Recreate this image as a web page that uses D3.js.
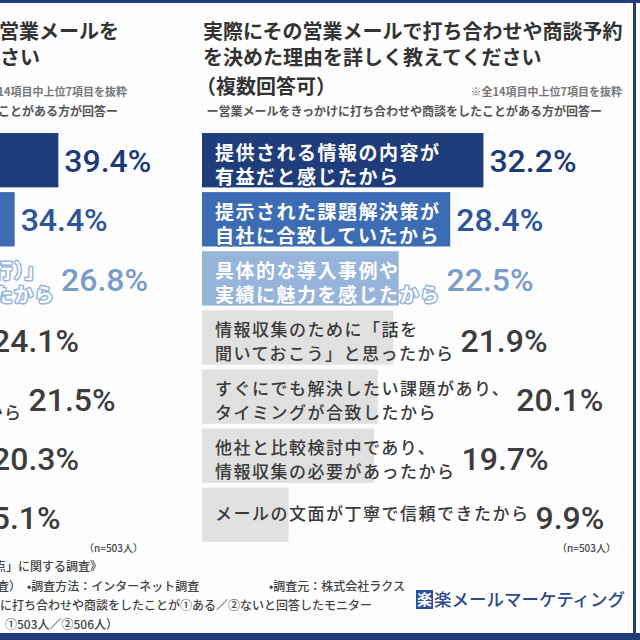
<!DOCTYPE html>
<html>
<head>
<meta charset="utf-8">
<script src="https://cdn.jsdelivr.net/npm/d3@7"></script>
<style>
  body { margin: 0; background: #fdfdfe; }
  svg { display: block; }
</style>
</head>
<body>
<script>
// --- data ---
var rightTitle = ["実際にその営業メールで打ち合わせや商談予約", "を決めた理由を詳しく教えてください", "（複数回答可）"];
var leftTitle = ["営業メールを", "教えてください"];
var noteText = "※全14項目中上位7項目を抜粋";
var subText = "ー営業メールをきっかけに打ち合わせや商談をしたことがある方が回答ー";
var sampleText = "（n=503人）";

var rightLabels = [
  ["提供される情報の内容が", "有益だと感じたから"],
  ["提示された課題解決策が", "自社に合致していたから"],
  ["具体的な導入事例や", "実績に魅力を感じたから"],
  ["情報収集のために「話を", "聞いておこう」と思ったから"],
  ["すぐにでも解決したい課題があり、", "タイミングが合致したから"],
  ["他社と比較検討中であり、", "情報収集の必要があったから"],
  ["メールの文面が丁寧で信頼できたから"]
];
var rightValues = [32.2, 28.4, 22.5, 21.9, 20.1, 19.7, 9.9];

// left panel is cut off by the picture edge; only the tails show
var leftLabels = [
  ["自社の課題に沿った", "提案内容だった"],
  ["サービスの特徴が", "分かりやすかった"],
  ["「無料お試し（初期設定の代行）」", "などの特典内容に魅力を感じたから"],
  ["課題に対する具体的な解決策が", "提示されていたから"],
  ["自社の業界に合わせた内容が", "自社向けに個別に書かれていたから"],
  ["担当者の専門性や経験の深さが", "伝わってきたから"],
  ["件名を見て興味を持ったから"]
];
var leftValues = [39.4, 34.4, 26.8, 24.1, 21.5, 20.3, 15.1];

var footerLines = [
  ["点」に関する調査》"],
  ["査）　•調査方法：インターネット調査", "•調査元：株式会社ラクス"],
  ["に打ち合わせや商談をしたことが①ある／②ないと回答したモニター"],
  ["①503人／②506人）"]
];
var logoMark = "楽";
var logoText = "楽メールマーケティング";

// --- styles ---
var navy = "#223c7a";
var barColors = ["#1f3d7b", "#3c6cb3", "#97b4da", "#e1e1e1", "#e1e1e1", "#e1e1e1", "#e1e1e1"];
var valueColors = ["#1d3a78", "#2d5597", "#7b9bc9", "#3d3d3d", "#3d3d3d", "#3d3d3d", "#3d3d3d"];
var jp = "'Noto Sans CJK JP', sans-serif";
var num = "Roboto, 'Noto Sans', sans-serif";

var W = 640, H = 640;
var svg = d3.select("body").append("svg")
  .attr("width", W)
  .attr("height", H);

svg.append("rect").attr("width", W).attr("height", H).attr("fill", "#fdfdfe");

var x = d3.scaleLinear().domain([0, 100]).range([0, 874]);
var y = d3.scaleBand().domain(d3.range(7)).range([133, 542]).paddingInner(0.08);

function drawPanel(x0, labels, values) {
  var g = svg.append("g").attr("transform", "translate(" + x0 + ",0)");

  var rows = g.selectAll("g.row")
    .data(values)
    .enter().append("g")
    .attr("class", "row");

  rows.append("rect")
    .attr("x", 0)
    .attr("y", function (d, i) { return y(i); })
    .attr("width", function (d) { return x(d); })
    .attr("height", y.bandwidth())
    .attr("fill", function (d, i) { return barColors[i]; });

  var lab = rows.append("text")
    .attr("font-family", jp)
    .attr("font-size", function (d, i) { return i < 3 ? 19 : 17; })
    .attr("font-weight", function (d, i) { return i < 3 ? 700 : 500; })
    .attr("letter-spacing", 1.5)
    .attr("fill", function (d, i) { return i < 3 ? "#fff" : "#3a3a3a"; })
    .attr("stroke", function (d, i) { return i < 3 ? barColors[i] : "none"; })
    .attr("stroke-width", 3)
    .attr("stroke-linejoin", "round")
    .attr("paint-order", "stroke");

  lab.selectAll("tspan")
    .data(function (d, i) {
      var ls = labels[i];
      var c = y(i) + y.bandwidth() / 2;
      return ls.map(function (t, k) {
        var off = ls.length === 1 ? -2 : (k === 0 ? -9 : 15);
        return { t: t, y: c + off };
      });
    })
    .enter().append("tspan")
    .attr("x", 13)
    .attr("y", function (d) { return d.y; })
    .attr("dominant-baseline", "central")
    .text(function (d) { return d.t; });

  // value sits after whichever is longer: the bar or its label
  rows.append("text")
    .attr("x", function (d, i) {
      var bb = lab.nodes()[i].getBBox();
      return Math.max(x(d), bb.x + bb.width) + 6;
    })
    .attr("y", function (d, i) { return y(i) + y.bandwidth() / 2 + (i < 3 ? 1 : 3); })
    .attr("dy", "0.35em")
    .attr("font-family", num)
    .attr("font-size", 32)
    .attr("font-weight", 500)
    .attr("fill", function (d, i) { return valueColors[i]; })
    .text(function (d) { return d.toFixed(1) + "%"; });
}

drawPanel(-286, leftLabels, leftValues);
drawPanel(202, rightLabels, rightValues);

// titles
var tt = svg.append("g")
  .attr("font-family", jp)
  .attr("font-weight", 700)
  .attr("font-size", 20)
  .attr("fill", "#333");
tt.append("text").attr("x", 203).attr("y", 39).text(rightTitle[0]);
tt.append("text").attr("x", 203).attr("y", 65).text(rightTitle[1]);
tt.append("text").attr("x", 196).attr("y", 94).text(rightTitle[2]);
tt.append("text").attr("x", 119).attr("y", 39).attr("text-anchor", "end").text(leftTitle[0]);
tt.append("text").attr("x", 40).attr("y", 65).attr("text-anchor", "end").text(leftTitle[1]);

var st = svg.append("g")
  .attr("font-family", jp)
  .attr("font-weight", 700)
  .attr("text-anchor", "end");
st.append("text").attr("x", 622).attr("y", 96).attr("font-size", 11).attr("fill", "#777").text(noteText);
st.append("text").attr("x", 127).attr("y", 96).attr("font-size", 11).attr("fill", "#777").text(noteText);
st.append("text").attr("x", 602).attr("y", 116).attr("font-size", 12).attr("fill", "#555").text(subText);
st.append("text").attr("x", 118).attr("y", 116).attr("font-size", 12).attr("fill", "#555").text(subText);
st.append("text").attr("x", 616).attr("y", 552).attr("font-size", 10).attr("font-weight", 500).attr("fill", "#444").text(sampleText);
st.append("text").attr("x", 143).attr("y", 552).attr("font-size", 10).attr("font-weight", 500).attr("fill", "#444").text(sampleText);

// footer
var ft = svg.append("g")
  .attr("font-family", jp)
  .attr("font-weight", 500)
  .attr("font-size", 12)
  .attr("fill", "#444");
var fx = [[-6], [-3, 269], [0], [5]];
var fy = [571, 591, 610, 629];
footerLines.forEach(function (line, i) {
  line.forEach(function (t, k) {
    ft.append("text").attr("x", fx[i][k]).attr("y", fy[i]).text(t);
  });
});

// logo
var logo = svg.append("g").attr("transform", "translate(416,590)");
logo.append("rect").attr("width", 17).attr("height", 19).attr("fill", "#2b4f9a");
logo.append("text").attr("x", 8.5).attr("y", 15).attr("text-anchor", "middle")
  .attr("font-family", jp).attr("font-size", 15).attr("font-weight", 700)
  .attr("fill", "#fff").text(logoMark);
logo.append("text").attr("x", 18).attr("y", 16)
  .attr("font-family", jp).attr("font-size", 17.5).attr("font-weight", 500)
  .attr("fill", "#2b4a8c").text(logoText);

// frame
svg.append("rect").attr("x", 0).attr("y", 0).attr("width", W).attr("height", 3).attr("fill", navy);
svg.append("rect").attr("x", 0).attr("y", 633).attr("width", W).attr("height", 7).attr("fill", navy);
svg.append("rect").attr("x", 633).attr("y", 0).attr("width", 3).attr("height", H).attr("fill", navy);
</script>
</body>
</html>
